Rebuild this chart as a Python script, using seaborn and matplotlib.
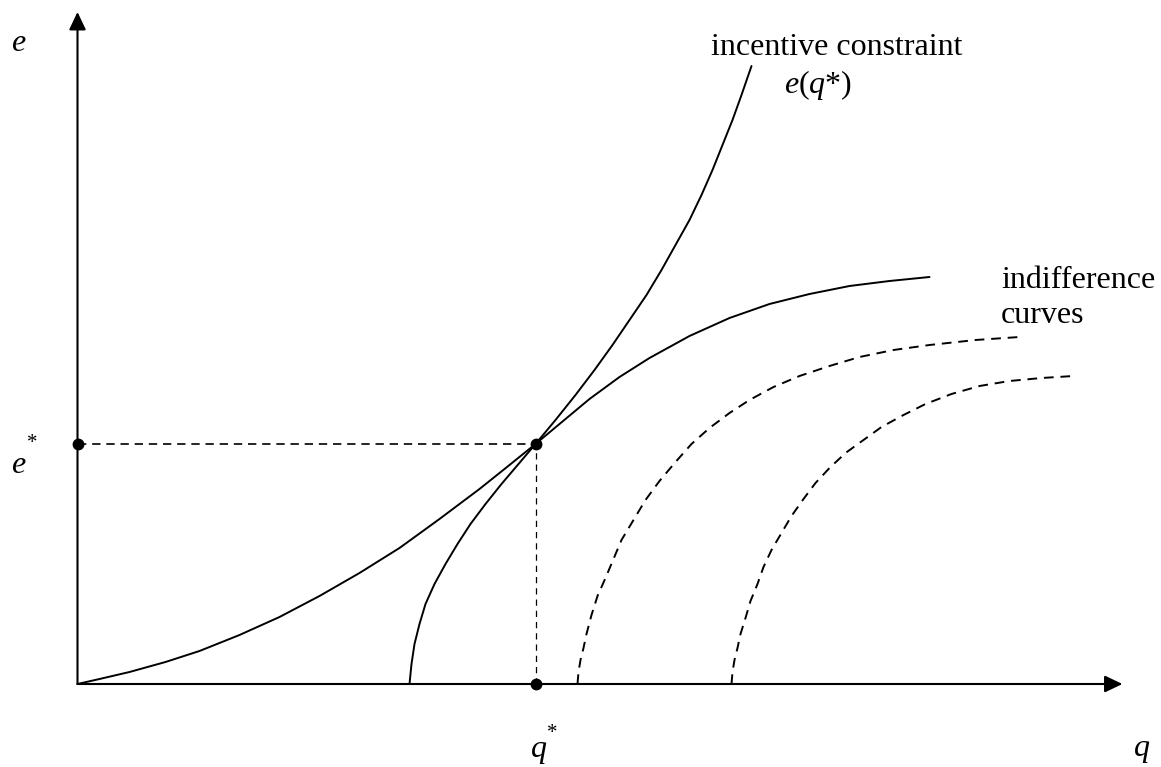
import numpy as np
import pandas as pd
import seaborn as sns
import matplotlib
matplotlib.use('Agg')
import matplotlib.pyplot as plt

# curva de indiferenca que toca a restricao (solida)
q_ind = [0, 22, 52, 88, 122, 162, 202, 242, 282, 322, 362, 402, 432, 458,
         482, 512, 542, 572, 612, 652, 692, 732, 772, 812, 852]
e_ind = [0, 5, 12, 22, 33, 49, 67, 88, 111, 136, 165, 195, 219, 240,
         260, 285, 307, 326, 348, 366, 380, 390, 398, 403, 407]

# restricao de incentivo e(q*)
q_ic = [332, 334, 337, 342, 348, 357, 368, 380, 393, 408, 424, 441, 458, 478,
        498, 517, 535, 552, 569, 584, 598, 612, 624, 635, 645, 655, 664, 674]
e_ic = [0, 20, 40, 60, 80, 100, 120, 140, 160, 180, 200, 220, 240, 264,
        289, 314, 339, 364, 389, 414, 439, 464, 489, 514, 539, 564, 589, 618]

# outras curvas de indiferenca (tracejadas)
q_d1 = [500, 501, 503, 506, 509, 514, 520, 528, 536, 544, 556, 568, 582,
        598, 614, 632, 652, 672, 696, 722, 752, 782, 816, 852, 898, 942]
e_d1 = [0, 12, 24, 36, 50, 69, 88, 106, 125, 144, 164, 184, 203,
        222, 240, 256, 271, 284, 297, 308, 318, 327, 334, 339, 344, 347]
q_d2 = [654, 655, 657, 660, 663, 668, 673, 680, 686, 694, 704, 714, 726,
        738, 752, 768, 786, 804, 826, 848, 874, 902, 932, 964, 996]
e_d2 = [0, 12, 24, 36, 50, 66, 83, 100, 117, 134, 151, 168, 185,
        201, 216, 231, 244, 257, 269, 280, 290, 298, 303, 306, 308]

q_star = 458
e_star = 240
q_max = 1045
e_max = 672

sns.set_theme(style='white')
plt.rcParams['font.family'] = ['Liberation Serif', 'DejaVu Serif']
plt.rcParams['text.color'] = 'black'
plt.rcParams['mathtext.fontset'] = 'custom'
plt.rcParams['mathtext.rm'] = 'Liberation Serif'
plt.rcParams['mathtext.it'] = 'Liberation Serif:italic'

fig = plt.figure(figsize=(11.61, 7.67), dpi=100)
ax = fig.add_axes([0, 0, 1, 1])
ax.set_xlim(-77.5, 1083.5)
ax.set_ylim(-83, 684)
ax.axis('off')

# eixos com setas
seta = dict(arrowstyle='-|>,head_length=0.4,head_width=0.19', mutation_scale=27,
            color='black', lw=1.5, shrinkA=0, shrinkB=0)
ax.annotate('', xy=(q_max, 0), xytext=(0, 0), arrowprops=seta)
ax.annotate('', xy=(0, e_max), xytext=(0, 0), arrowprops=seta)

curva = pd.DataFrame({'q': q_ind, 'e': e_ind})
sns.lineplot(data=curva, x='q', y='e', sort=False, estimator=None, color='black', lw=1.4, ax=ax)
sns.lineplot(x=q_ic, y=e_ic, sort=False, estimator=None, color='black', lw=1.4, ax=ax)
sns.lineplot(x=q_d1, y=e_d1, sort=False, estimator=None, color='black', lw=1.4,
             linestyle=(0, (5, 3.5)), ax=ax)
sns.lineplot(x=q_d2, y=e_d2, sort=False, estimator=None, color='black', lw=1.4,
             linestyle=(0, (5, 3.5)), ax=ax)

# linhas guia
ax.plot([0, q_star], [e_star, e_star], color='black', lw=1.2, linestyle=(0, (5, 3.5)))
ax.plot([q_star, q_star], [0, e_star], color='black', lw=0.9, linestyle=(0, (5, 4)))
ax.plot([0, q_star, q_star], [e_star, e_star, 0], 'o', color='black', ms=7.5)

fs = 23
ax.text(-66.5, 633, '$e$', fontsize=fs)
ax.text(-66.5, 211, '$e$', fontsize=fs)
ax.text(-45.5, 241, '*', fontsize=15, ha='center', va='center')
ax.text(452.5, -73, '$q$', fontsize=fs)
ax.text(474.5, -50, '*', fontsize=15, ha='center', va='center')
ax.text(1055.5, -72, '$q$', fontsize=fs)
ax.text(633.5, 629, 'incentive constraint', fontsize=fs)
ax.text(706.5, 591, '$e$($q$*)', fontsize=fs)
ax.text(923.5, 396, 'indifference', fontsize=fs)
ax.text(923.5, 361, 'curves', fontsize=fs)

fig.savefig('out.png', dpi=100)
